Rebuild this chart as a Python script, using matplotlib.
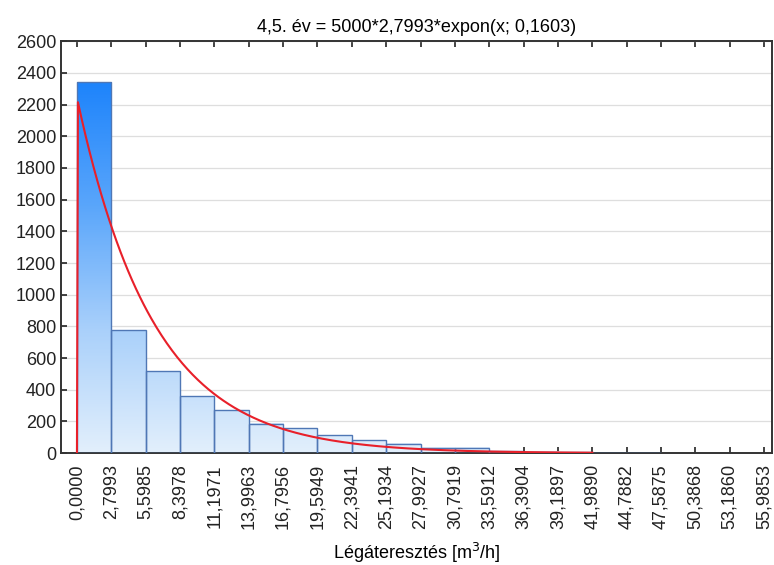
import numpy as np
import matplotlib
matplotlib.use("Agg")
import matplotlib.pyplot as plt
from matplotlib.colors import LinearSegmentedColormap

plt.rcParams['font.family'] = ['Liberation Sans', 'DejaVu Sans']

# Data
bin_width = 2.7993
bin_edges = [0.0000, 2.7993, 5.5985, 8.3978, 11.1971, 13.9963, 16.7956, 19.5949,
             22.3941, 25.1934, 27.9927, 30.7919, 33.5912, 36.3904, 39.1897,
             41.9890, 44.7882, 47.5875, 50.3868, 53.1860, 55.9853]
tick_labels = ["0,0000", "2,7993", "5,5985", "8,3978", "11,1971", "13,9963", "16,7956",
               "19,5949", "22,3941", "25,1934", "27,9927", "30,7919", "33,5912", "36,3904",
               "39,1897", "41,9890", "44,7882", "47,5875", "50,3868", "53,1860", "55,9853"]
counts = [2340, 776, 517, 358, 270, 186, 156, 112, 80, 60, 35, 35, 12, 10, 4, 2, 1, 0, 0, 0]

# Fitted curve parameters (from title)
N_total = 5000
lam = 0.1603
curve_end = 41.9890

fig = plt.figure(figsize=(7.74, 5.65), dpi=100)
ax = fig.add_axes([0.0788, 0.198, 0.9182, 0.729])

ax.grid(axis='y', color='#dedede', linewidth=0.9, zorder=0)
ax.set_axisbelow(True)

cmap = LinearSegmentedColormap.from_list(
    'bg', ['#e2effc', '#a9d0fa', '#5aa6fb', '#1e84fb'])
hmax = max(counts)
for i, h in enumerate(counts):
    x0, x1 = bin_edges[i], bin_edges[i + 1]
    if h <= 0:
        continue
    grad = np.linspace(0, h / hmax, 200).reshape(-1, 1)
    ax.imshow(grad, cmap=cmap, vmin=0, vmax=1, origin='lower', aspect='auto',
              extent=[x0, x1, 0, h], zorder=2, interpolation='bilinear')
    ax.add_patch(plt.Rectangle((x0, 0), x1 - x0, h, fill=False,
                               edgecolor='#4f77b5', linewidth=1.0, zorder=3))
ax.set_xlim(-1.3, 56.6)
ax.set_ylim(0, 2600)
ax.set_yticks(np.arange(0, 2601, 200))

xc = np.concatenate([[0.0], np.linspace(0.08, curve_end, 400)])
yc = N_total * bin_width * lam * np.exp(-lam * xc)
yc[0] = 0.0
ax.plot(xc, yc, color='#e8202a', linewidth=1.5, zorder=4)

ax.set_xticks(bin_edges)
ax.set_xticklabels(tick_labels, rotation=90)
ax.tick_params(axis='both', direction='in', length=4, width=1.2, labelsize=13,
               top=True, right=False, colors='#222222')
ax.tick_params(axis='x', pad=8)
for s in ax.spines.values():
    s.set_linewidth(1.4)
    s.set_color('#333333')

ax.set_title("4,5. év = 5000*2,7993*expon(x; 0,1603)", fontsize=13, pad=7)
ax.set_xlabel("Légáteresztés [m$^3$/h]", fontsize=13, labelpad=8)

fig.savefig("out.png", dpi=100)
